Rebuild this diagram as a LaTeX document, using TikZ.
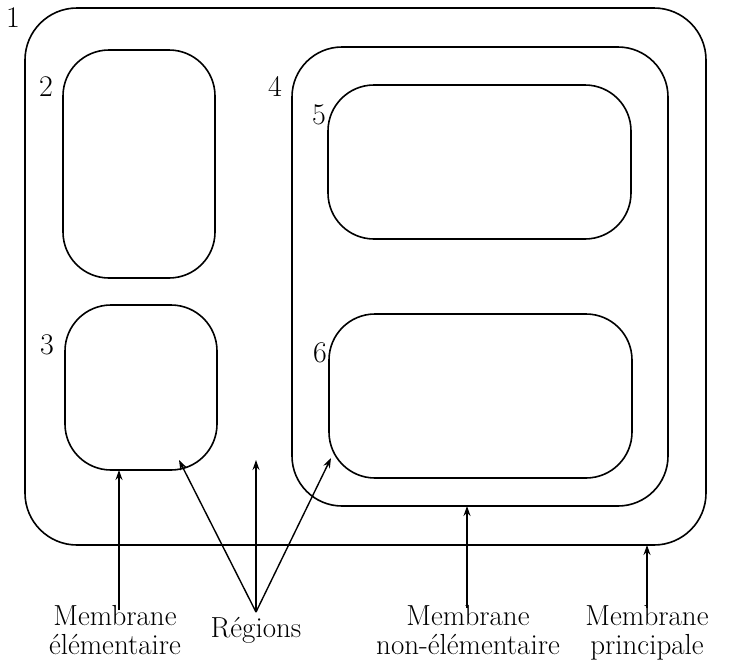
\documentclass[tikz,border=0pt]{standalone}
\usetikzlibrary{arrows.meta}
\begin{document}
\begin{tikzpicture}[x=1pt,y=-1pt,
  memb/.style={draw,line width=1.6pt},
  num/.style={font=\fontsize{30}{34}\selectfont,inner sep=0pt},
  lbl/.style={font=\fontsize{29}{29}\selectfont,align=center,inner sep=0pt},
  arr/.style={line width=1.4pt,-{Stealth[length=10pt,width=7pt]}}]
\useasboundingbox (0,0) rectangle (731,664);
% membranes
\draw[memb,rounded corners=52pt] (25,8) rectangle (706,545);
\draw[memb,rounded corners=46pt] (63,50) rectangle (215,278);
\draw[memb,rounded corners=46pt] (65,305) rectangle (217,470);
\draw[memb,rounded corners=50pt] (292,47) rectangle (668,506);
\draw[memb,rounded corners=46pt] (328,85) rectangle (631,239);
\draw[memb,rounded corners=46pt] (329,314) rectangle (632,478);
% numbers
\node[num] (n1) at (13,18) {1};
\node[num] (n2) at (46,87) {2};
\node[num] (n3) at (47,345) {3};
\node[num] (n4) at (275,86) {4};
\node[num] (n5) at (319,115) {5};
\node[num] (n6) at (320,353) {6};
% labels
\node[lbl,anchor=north] (me) at (115,605) {Membrane\\élémentaire};
\node[lbl,anchor=north] (rg) at (256,617) {Régions};
\node[lbl,anchor=north] (mn) at (468,605) {Membrane\\non-élémentaire};
\node[lbl,anchor=north] (mp) at (647,605) {Membrane\\principale};
% targets
\coordinate (t1) at (119,470);
\coordinate (r0) at (256,612);
\coordinate (r1) at (179,460);
\coordinate (r2) at (256,460);
\coordinate (r3) at (331,458);
\coordinate (t4) at (467,506);
\coordinate (t5) at (647,545);
% arrows
\draw[arr] (119,610) -- (t1);
\draw[arr] (r0) -- (r1);
\draw[arr] (r0) -- (r2);
\draw[arr] (r0) -- (r3);
\draw[arr] (467,608) -- (t4);
\draw[arr] (647,608) -- (t5);
\end{tikzpicture}
\end{document}
